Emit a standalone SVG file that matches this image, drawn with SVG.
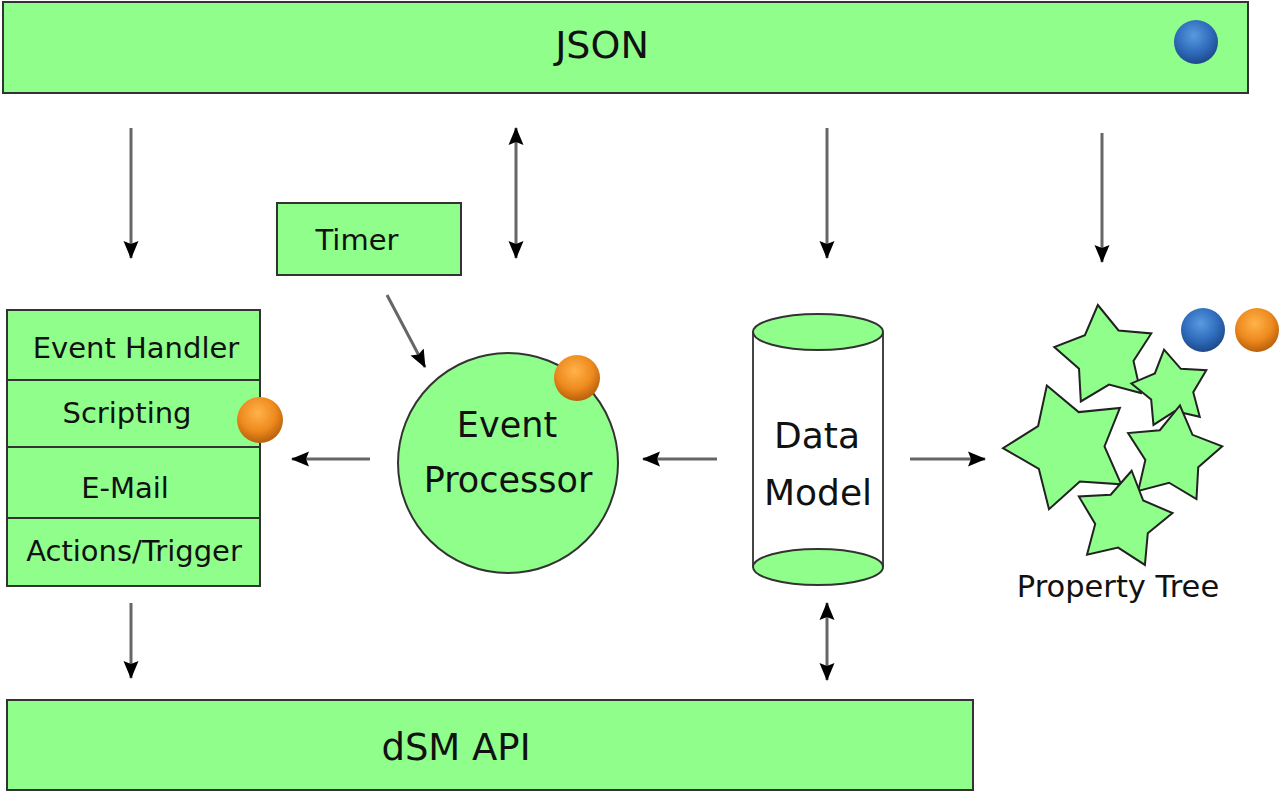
<svg xmlns="http://www.w3.org/2000/svg" xmlns:xlink="http://www.w3.org/1999/xlink" width="1281" height="794" viewBox="0 0 1281 794">
<style>
.box{fill:#8ffe8a;stroke:#333;stroke-width:2}
.lbl{font-family:"DejaVu Sans",sans-serif;fill:#111;text-anchor:middle}
.conn{stroke:#666;stroke-width:3;fill:none}
</style>
<defs>
<marker id="ah" viewBox="0 0 18 18" refX="17" refY="9" markerWidth="18" markerHeight="18" markerUnits="userSpaceOnUse" orient="auto-start-reverse">
<path d="M0,1.5 L18,9 L0,16.5 L3,9 Z" fill="#000"/>
</marker>
<radialGradient id="gBlue" cx="0.45" cy="0.35" r="0.65">
<stop offset="0" stop-color="#5a9ae0"/>
<stop offset="0.6" stop-color="#2f6cbc"/>
<stop offset="1" stop-color="#1d4a8a"/>
</radialGradient>
<radialGradient id="gOrange" cx="0.45" cy="0.35" r="0.65">
<stop offset="0" stop-color="#ffb34a"/>
<stop offset="0.6" stop-color="#ee8a1e"/>
<stop offset="1" stop-color="#b8600c"/>
</radialGradient>
<polygon id="star" points="0,-50 16.5,-22.7 47.55,-15.45 26.7,8.7 29.39,40.45 0,28 -29.39,40.45 -26.7,8.7 -47.55,-15.45 -16.5,-22.7" fill="#8ffe8a" stroke="#222" stroke-width="2" vector-effect="non-scaling-stroke" stroke-linejoin="miter"/>
</defs>

<g id="json">
<rect class="box" x="3" y="2" width="1245" height="91"/>
<text class="lbl" x="602" y="58" font-size="38">JSON</text>
<circle cx="1196" cy="42" r="22" fill="url(#gBlue)"/>
</g>

<g id="timer">
<rect class="box" x="277" y="203" width="184" height="72"/>
<text class="lbl" x="357" y="250" font-size="29">Timer</text>
</g>

<g id="stack">
<rect class="box" x="7" y="310" width="253" height="70"/>
<rect class="box" x="7" y="380" width="253" height="67"/>
<rect class="box" x="7" y="447" width="253" height="71"/>
<rect class="box" x="7" y="518" width="253" height="68"/>
<text class="lbl" x="136" y="358" font-size="29">Event Handler</text>
<text class="lbl" x="127" y="423" font-size="29">Scripting</text>
<text class="lbl" x="125" y="498" font-size="29">E-Mail</text>
<text class="lbl" x="134" y="561" font-size="29">Actions/Trigger</text>
<circle cx="260" cy="420" r="23" fill="url(#gOrange)"/>
</g>

<g id="event-processor">
<circle class="box" cx="508" cy="463" r="110"/>
<text class="lbl" x="507" y="437" font-size="35">Event</text>
<text class="lbl" x="508" y="492" font-size="35">Processor</text>
<circle cx="577" cy="378" r="23" fill="url(#gOrange)"/>
</g>

<g id="data-model">
<rect x="753" y="332" width="130" height="235" fill="#fff" stroke="none"/>
<line x1="753" y1="332" x2="753" y2="567" stroke="#444" stroke-width="2"/>
<line x1="883" y1="332" x2="883" y2="567" stroke="#444" stroke-width="2"/>
<ellipse class="box" cx="818" cy="332" rx="65" ry="18"/>
<ellipse class="box" cx="818" cy="567" rx="65" ry="18"/>
<text class="lbl" x="817" y="448" font-size="36">Data</text>
<text class="lbl" x="818" y="505" font-size="36">Model</text>
</g>

<g id="property-tree">
<use xlink:href="#star" transform="translate(1068,447) rotate(-19) scale(1.3)"/>
<use xlink:href="#star" transform="translate(1105,356) rotate(-8) scale(1.03)"/>
<use xlink:href="#star" transform="translate(1171,389) rotate(-10) scale(0.8)"/>
<use xlink:href="#star" transform="translate(1173,455) rotate(8) scale(1.0)"/>
<use xlink:href="#star" transform="translate(1123,520) rotate(10) scale(1.0)"/>
<text class="lbl" x="1118" y="597" font-size="30.5">Property Tree</text>
<circle cx="1203" cy="330" r="22" fill="url(#gBlue)"/>
<circle cx="1257" cy="330" r="22" fill="url(#gOrange)"/>
</g>

<g id="dsm-api">
<rect class="box" x="7" y="700" width="966" height="90"/>
<text class="lbl" x="456" y="760" font-size="37">dSM API</text>
</g>

<g id="connectors">
<line class="conn" x1="131" y1="128" x2="131" y2="258" marker-end="url(#ah)"/>
<line class="conn" x1="516" y1="128" x2="516" y2="258" marker-start="url(#ah)" marker-end="url(#ah)"/>
<line class="conn" x1="827" y1="128" x2="827" y2="258" marker-end="url(#ah)"/>
<line class="conn" x1="1102" y1="133" x2="1102" y2="262" marker-end="url(#ah)"/>
<line class="conn" x1="387" y1="295" x2="425" y2="367" marker-end="url(#ah)"/>
<line class="conn" x1="370" y1="459" x2="292" y2="459" marker-end="url(#ah)"/>
<line class="conn" x1="717" y1="459" x2="643" y2="459" marker-end="url(#ah)"/>
<line class="conn" x1="910" y1="459" x2="985" y2="459" marker-end="url(#ah)"/>
<line class="conn" x1="131" y1="603" x2="131" y2="678" marker-end="url(#ah)"/>
<line class="conn" x1="827" y1="603" x2="827" y2="680" marker-start="url(#ah)" marker-end="url(#ah)"/>
</g>
</svg>
